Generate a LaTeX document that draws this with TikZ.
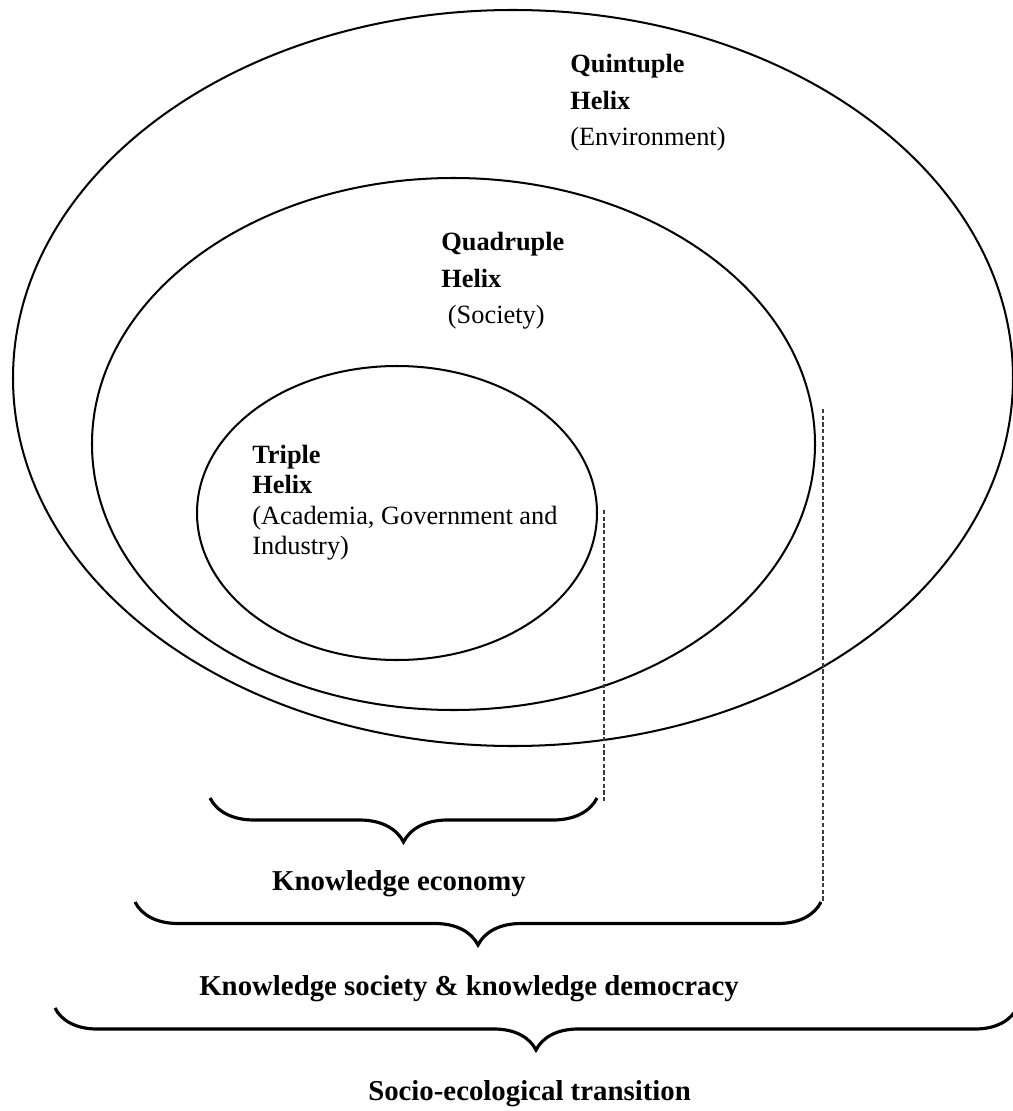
\documentclass[tikz,border=0pt]{standalone}
\usepackage{fontspec}
\setmainfont{Liberation Serif}
\usepackage{tikz}
\usetikzlibrary{positioning, calc, decorations.pathreplacing}
\definecolor{inkblack}{RGB}{0, 0, 0}
\definecolor{dashgray}{RGB}{60, 60, 60}
\tikzset{
  helixring/.style={draw=inkblack, line width=1.15pt},
  bracearc/.style={decorate, decoration={brace, mirror, amplitude=#1}, draw=inkblack, line width=1.8pt},
  guideline/.style={draw=dashgray, line width=0.65pt, dash pattern=on 2.4pt off 1.4pt}
}

\begin{document}
\begin{tikzpicture}[
    x=0.02cm, y=-0.02cm,
    helixlbl/.style={inner sep=0pt, anchor=north west, align=left, font=\fontsize{15}{20.7}\selectfont},
    triplelbl/.style={inner sep=0pt, anchor=north west, align=left, font=\fontsize{15}{17.2}\selectfont},
    stagelbl/.style={inner sep=0pt, anchor=base, font=\fontsize{16.4}{19}\selectfont\bfseries}
]
    \useasboundingbox (0,0) rectangle (1013,1111);

    % Nested helices
    \coordinate (quintc) at (513,378);
    \coordinate (quadc) at (453.5,444);
    \coordinate (triplec) at (397,513);
    \draw[helixring] (quintc) ellipse [x radius=500, y radius=368];
    \draw[helixring] (quadc) ellipse [x radius=361.5, y radius=266];
    \draw[helixring] (triplec) ellipse [x radius=200, y radius=147];

    % Helix labels
    \node[helixlbl] (quint) at (570,54) {\textbf{Quintuple}\\\textbf{Helix}\\(Environment)};
    \node[helixlbl] (quad) at (441,232) {\textbf{Quadruple}\\\textbf{Helix}\\\ (Society)};
    \node[triplelbl] (triple) at (252,445) {\textbf{Triple}\\\textbf{Helix}\\(Academia, Government and\\Industry)};

    % Dashed guides down to the braces
    \coordinate (g1top) at (604,510);
    \coordinate (g1bot) at (604,802);
    \coordinate (g2top) at (823,409);
    \coordinate (g2bot) at (823,903);
    \draw[guideline] (g1top) -- (g1bot);
    \draw[guideline] (g2top) -- (g2bot);

    % Braces
    \coordinate (b1l) at (210,798);
    \coordinate (b1r) at (597,798);
    \coordinate (b2l) at (135,902);
    \coordinate (b2r) at (821,902);
    \coordinate (b3l) at (55,1008);
    \coordinate (b3r) at (1017,1008);
    \draw[bracearc=0.88cm] (b1l) -- (b1r);
    \draw[bracearc=0.86cm] (b2l) -- (b2r);
    \draw[bracearc=0.84cm] (b3l) -- (b3r);

    % Stage labels
    \node[stagelbl] (econ) at (399,890) {Knowledge economy};
    \node[stagelbl] (demo) at (469,995) {Knowledge society \& knowledge democracy};
    \node[stagelbl] (trans) at (529.5,1100) {Socio-ecological transition};
\end{tikzpicture}
\end{document}
